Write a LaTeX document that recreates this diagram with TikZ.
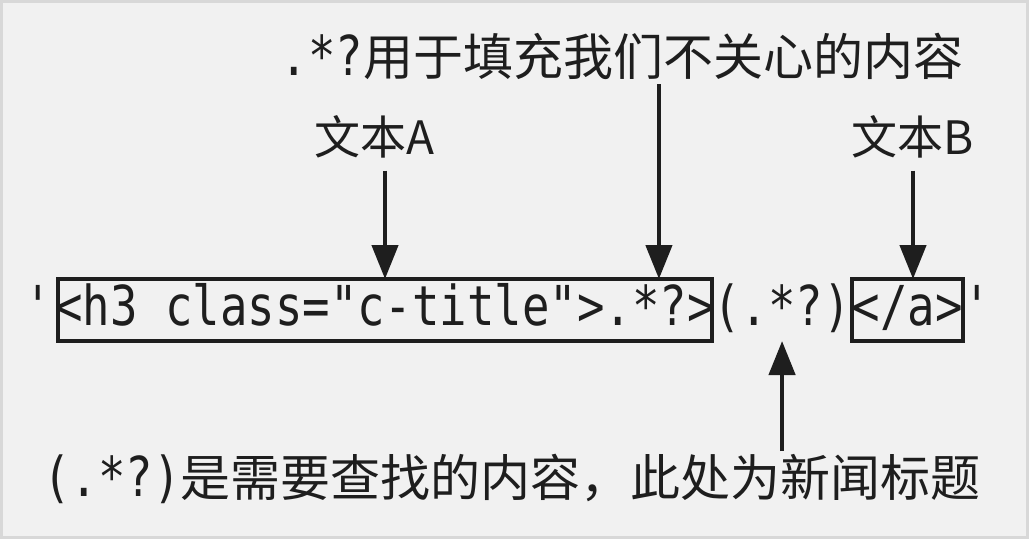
\documentclass[tikz,border=0pt]{standalone}
\usepackage{fontspec}
\usepackage{xcolor}
\usepackage{tikz}
\usetikzlibrary{positioning,arrows.meta}

\newfontfamily\regexfont[FakeStretch=0.83]{DejaVu Sans Mono}
\newfontfamily\cjk{Noto Sans CJK SC}
\newcommand{\rx}[1]{{\regexfont\fontsize{55}{60}\selectfont #1}}

\definecolor{bgcol}{HTML}{F1F1F1}
\definecolor{framecol}{HTML}{D8D8D8}
\definecolor{ink}{HTML}{1E1E1E}

\tikzset{
  regex/.style={font=\regexfont\fontsize{55}{60}\selectfont, text=ink,
    inner xsep=0pt, inner ysep=9pt, outer sep=0pt,
    text height=37pt, text depth=7pt},
  regexbox/.style={regex, draw=ink, line width=4.5pt, minimum height=62pt},
  note/.style={font=\cjk\fontsize{50}{56}\selectfont, text=ink,
    inner xsep=0pt, inner ysep=5pt, outer sep=0pt,
    text height=40pt, text depth=4pt},
  arr/.style={draw=ink, line width=4.5pt, -{Triangle[length=34pt,width=26pt]}}
}

\begin{document}
\begin{tikzpicture}[x=1pt, y=-1pt]
\useasboundingbox (0,0) rectangle (1029,539);
\fill[bgcol] (0,0) rectangle (1029,539);
\draw[framecol, line width=3pt] (1.5,1.5) rectangle (1027.5,537.5);

% the pattern
\node[regexbox, inner xsep=-2.75pt] (tagA) at (385,310) {<h3 class="c-title">.*?>};
\node[regex] (quoteL) [left=0pt of tagA] {\textquotesingle};
\node[regex, inner xsep=1.3pt] (group) [right=0pt of tagA] {(.*?)};
\node[regexbox, inner xsep=0.5pt] (tagB) [right=0pt of group] {</a>};
\node[regex] (quoteR) [right=0pt of tagB] {\textquotesingle};

% notes
\node[note] (fillnote) at (622,57) {\rx{.*?}用于填充我们不关心的内容};
\node[note, font=\cjk\fontsize{46}{52}\selectfont, text height=37pt, inner ysep=12pt] (textA) at (374,138) {文本A};
\node[note, font=\cjk\fontsize{46}{52}\selectfont, text height=37pt, inner ysep=12pt] (textB) at (913,138) {文本B};
\node[note] (findnote) at (512,478) {\rx{(.*?)}是需要查找的内容，此处为新闻标题};

\coordinate (fillpt) at ([xshift=601pt]tagA.north west);

\draw[arr] (textA.south -| tagA.north) -- (tagA.north);
\draw[arr] (fillnote.south -| fillpt) -- (fillpt);
\draw[arr] (textB.south) -- (textB.south |- tagB.north);
\draw[arr] (findnote.north -| group.south) -- (group.south);
\end{tikzpicture}
\end{document}
